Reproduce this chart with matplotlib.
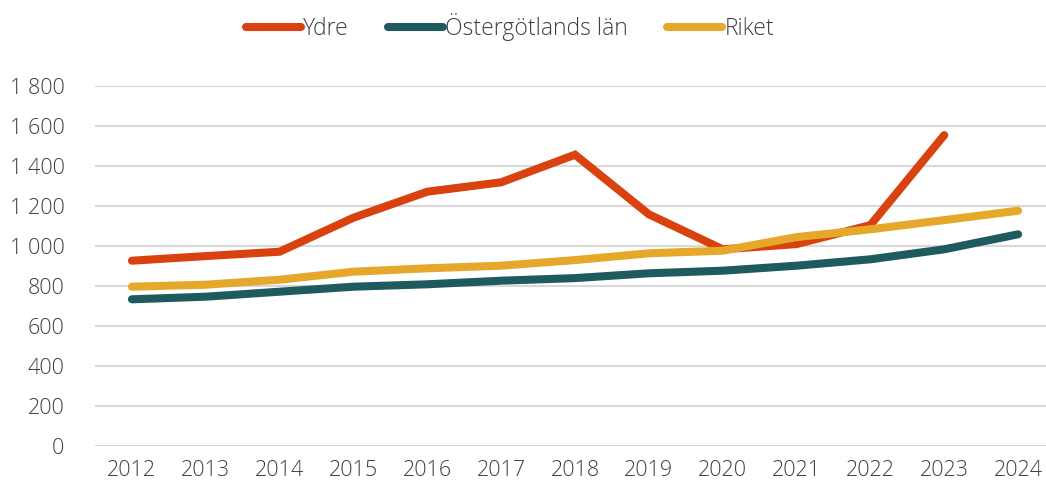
import matplotlib
matplotlib.use("Agg")
import matplotlib.pyplot as plt
from matplotlib.ticker import FuncFormatter

years = ["2012", "2013", "2014", "2015", "2016", "2017", "2018", "2019", "2020", "2021", "2022", "2023", "2024"]
ydre = [925, 948, 970, 1140, 1270, 1317, 1455, 1157, 982, 1008, 1103, 1553]
ostergotland = [732, 745, 770, 795, 807, 825, 838, 862, 875, 900, 932, 982, 1057]
riket = [795, 805, 830, 870, 887, 900, 928, 962, 975, 1043, 1082, 1128, 1175]
yticks = [0, 200, 400, 600, 800, 1000, 1200, 1400, 1600, 1800]

plt.rcParams['font.family'] = ['Open Sans', 'DejaVu Sans']
plt.rcParams['font.weight'] = 'light'

fig = plt.figure(figsize=(10.46, 4.86), dpi=100)
W, H = 1046, 486
ax = fig.add_axes([95 / W, (H - 445.7) / H, (1055 - 95) / W, (445.7 - 85.7) / H])

x = list(range(len(years)))
lw = 5.8
ax.plot(x[:len(ydre)], ydre, color="#D9410E", lw=lw, solid_capstyle="round", solid_joinstyle="miter", label="Ydre", zorder=3)
ax.plot(x, ostergotland, color="#1F5A5E", lw=lw, solid_capstyle="round", solid_joinstyle="miter", label="Östergötlands län", zorder=3)
ax.plot(x, riket, color="#E5A82A", lw=lw, solid_capstyle="round", solid_joinstyle="miter", label="Riket", zorder=4)

ax.set_xlim(-0.5, 12.5)
ax.set_ylim(0, 1800)
ax.set_yticks(yticks)
ax.yaxis.set_major_formatter(FuncFormatter(lambda v, p: f"{int(v):,}".replace(",", " ")))
ax.set_xticks(x)
ax.set_xticklabels(years)
ax.grid(axis="y", color="#d9d9d9", lw=1.5)
ax.set_axisbelow(True)
for s in ax.spines.values():
    s.set_visible(False)
ax.tick_params(axis="both", length=0, labelsize=15.5, colors="#404040")
ax.tick_params(axis="y", pad=22)
ax.tick_params(axis="x", pad=10)

fig.legend(loc="center", bbox_to_anchor=(510 / W, 1 - 27 / H), ncol=3, frameon=False,
           fontsize=16.5, handlelength=2.4, handletextpad=0.1, columnspacing=1.7,
           labelcolor="#404040")

fig.savefig("out.png", dpi=100)
